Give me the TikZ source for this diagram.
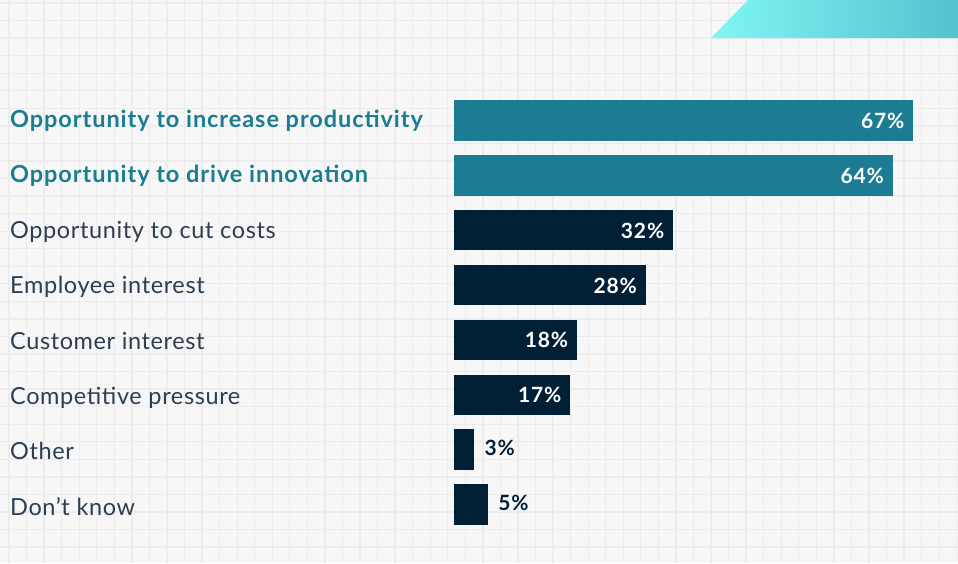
\documentclass[tikz,border=0pt]{standalone}
\usepackage{fontspec}
\setmainfont{Lato}[LetterSpace=2.6,BoldFeatures={LetterSpace=4}]
\usepackage{xcolor}
\usetikzlibrary{positioning}

\begin{document}
\begin{tikzpicture}[x=1pt,y=-1pt,
  barhi/.style={fill=tealbar},
  barlo/.style={fill=navybar},
  txthi/.style={text=tealtext,font=\bfseries\fontsize{23.5}{25}\selectfont},
  txtlo/.style={text=graytext,font=\fontsize{23.5}{25}\selectfont},
  valin/.style={anchor=base east,text=white,inner sep=0pt,font=\bfseries\fontsize{21}{22}\selectfont},
  valout/.style={anchor=base west,text=navybar,inner sep=0pt,font=\bfseries\fontsize{21}{22}\selectfont}]
\definecolor{paper}{HTML}{F7F7F7}
\definecolor{gridgray}{HTML}{ECECEC}
\definecolor{tealbar}{HTML}{1B7C94}
\definecolor{navybar}{HTML}{022035}
\definecolor{tealtext}{HTML}{1A7D92}
\definecolor{graytext}{HTML}{2C3E52}
\definecolor{gradleft}{HTML}{80F6F4}
\definecolor{gradright}{HTML}{55C2CE}
\useasboundingbox (0,0) rectangle (958,563);
\fill[paper] (0,0) rectangle (958,563);
% grid paper
  \foreach \k in {0,...,54}
  {  \draw[gridgray,line width=1.3pt] (9+17.55*\k,0) -- (9+17.55*\k,563);}
  \foreach \k in {0,...,31}
  {  \draw[gridgray,line width=1.3pt] (0,3+17.55*\k) -- (958,3+17.55*\k);}
% corner band
\shade[left color=gradleft,right color=gradright] (711,38) -- (748,0) -- (958,0) -- (958,38) -- cycle;
% bars
  \foreach \i/\v/\txt/\kind in {1/67/Opportunity to increase productivity/hi,
      2/64/Opportunity to drive innovation/hi,3/32/Opportunity to cut costs/lo,
      4/28/Employee interest/lo,5/18/Customer interest/lo,
      6/17/Competitive pressure/lo,7/3/Other/lo,8/5/Don’t know/lo}
  {  \node [bar\kind,anchor=north west,inner sep=0pt,minimum height=40.5pt,
          minimum width=\v*6.86pt] (bar\i) at (453.5,100+54.86*\i-54.86) {};
     \node [txt\kind,anchor=base west,inner sep=0pt] (lbl\i) at (10,127.5+55.4*\i-55.4) {\txt};
     \ifnum\v>9
       \node [valin] (val\i) at ([xshift=-9pt,yshift=-28.5pt]bar\i.north east) {\v\%};
     \else
       \node [valout] (val\i) at ([xshift=10pt,yshift=-26.5pt]bar\i.north east) {\v\%};
     \fi}
\end{tikzpicture}
\end{document}
